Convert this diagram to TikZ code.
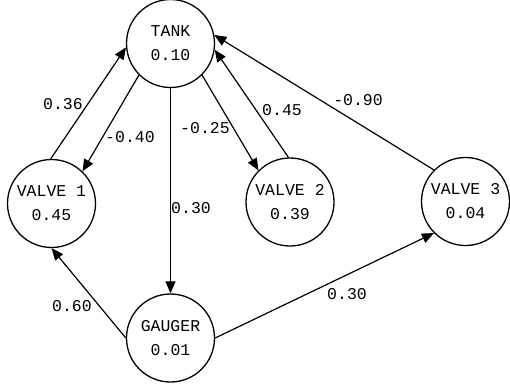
\documentclass[tikz,border=0pt]{standalone}
\usepackage{fontspec}
\setmonofont{Liberation Mono}
\usetikzlibrary{arrows.meta}
\tikzset{
  state/.style={draw, circle, line width=1.3bp, minimum size=88bp, inner sep=0pt,
    align=center, font=\ttfamily\fontsize{16.5bp}{24bp}\selectfont},
  edge/.style={line width=1.2bp, -{Triangle[length=12bp,width=10bp]}},
  wlabel/.style={font=\ttfamily\fontsize{16.5bp}{20bp}\selectfont, inner sep=0pt}
}
\begin{document}
\begin{tikzpicture}[x=1bp,y=-1bp]
\useasboundingbox (0,0) rectangle (510,390);
\node[state] (tank) at (170.5,43.5) {TANK\\0.10};
\node[state] (v1) at (51.5,203.5) {VALVE 1\\0.45};
\node[state] (v2) at (290,202) {VALVE 2\\0.39};
\node[state] (v3) at (465.5,201.5) {VALVE 3\\0.04};
\node[state] (g) at (170.5,338) {GAUGER\\0.01};

\draw[edge] (v1.91) -- (tank.185);
\node[wlabel] (l1) at (63,104) {0.36};
\draw[edge] (tank.225) -- (v1.46);
\node[wlabel] (l2) at (130,137) {-0.40};
\draw[edge] (tank.south) -- (g.north);
\node[wlabel] (l3) at (191,208) {0.30};
\draw[edge] (tank.315) -- (v2.135);
\node[wlabel] (l4) at (205,128) {-0.25};
\draw[edge] (v2.92) -- (tank.352);
\node[wlabel] (l5) at (282,110) {0.45};
\draw[edge] (v3.135) -- (tank.11);
\node[wlabel] (l6) at (358,100) {-0.90};
\draw[edge] (g.180) -- (v1.270);
\node[wlabel] (l7) at (72,306) {0.60};
\draw[edge] (g.0) -- (v3.225);
\node[wlabel] (l8) at (347,294) {0.30};
\end{tikzpicture}
\end{document}
